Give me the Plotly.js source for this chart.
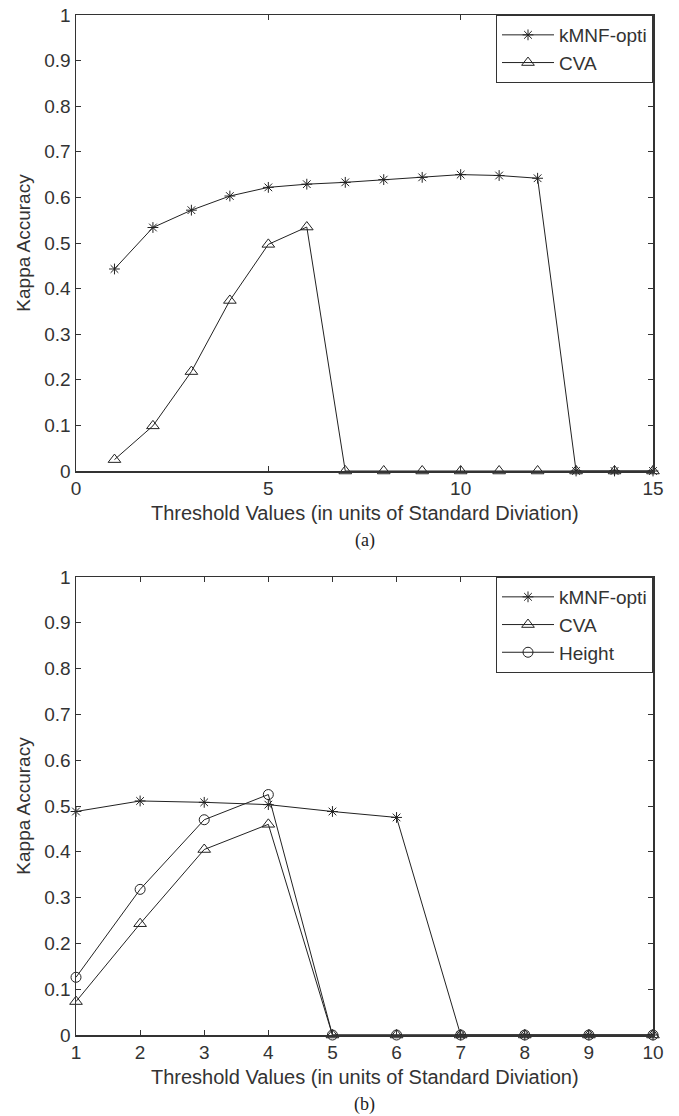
<!DOCTYPE html>
<html>
<head>
<meta charset="utf-8">
<script src="https://cdn.plot.ly/plotly-3.0.1.min.js"></script>
<style>html,body{margin:0;padding:0;background:#fff;}#chart{width:679px;height:1116px;}</style>
</head>
<body>
<div id="chart"></div>
<script>
// Panel (a)
const xA = [1,2,3,4,5,6,7,8,9,10,11,12,13,14,15];
const kmnfA = [0.443,0.534,0.572,0.603,0.622,0.629,0.633,0.639,0.644,0.650,0.648,0.642,0,0,0];
const cvaA  = [0.025,0.099,0.218,0.374,0.497,0.535,0,0,0,0,0,0,0,0,0];
// Panel (b)
const xB = [1,2,3,4,5,6,7,8,9,10];
const kmnfB   = [0.488,0.511,0.508,0.503,0.488,0.475,0,0,0,0];
const cvaB    = [0.073,0.243,0.405,0.460,0,0,0,0,0,0];
const heightB = [0.126,0.318,0.470,0.525,0,0,0,0,0,0];

const seriesNames = ['kMNF-opti','CVA','Height'];
const xTitle = 'Threshold Values (in units of Standard Diviation)';
const yTitle = 'Kappa Accuracy';
const panelLabels = ['(a)', '(b)'];

const FONT = '"Liberation Sans Narrow", "Arial Narrow", "Liberation Sans", Arial, sans-serif';
const SERIF = '"Liberation Serif", "Times New Roman", serif';
const ink = '#222';
const FS = 19;

function tr(x, y, name, sym, xa, ya, leg, size) {
  return {
    x: x, y: y, name: name, type: 'scatter', mode: 'lines+markers',
    xaxis: xa, yaxis: ya, legend: leg, cliponaxis: false,
    line: {color: ink, width: 1},
    marker: {symbol: sym, size: size, color: ink, line: {color: ink, width: 1}}
  };
}

const data = [
  tr(xA, kmnfA, seriesNames[0], 'asterisk-open', 'x', 'y', 'legend', 9),
  tr(xA, cvaA, seriesNames[1], 'triangle-up-open', 'x', 'y', 'legend', 11),
  tr(xB, kmnfB, seriesNames[0], 'asterisk-open', 'x2', 'y2', 'legend2', 9),
  tr(xB, cvaB, seriesNames[1], 'triangle-up-open', 'x2', 'y2', 'legend2', 11),
  tr(xB, heightB, seriesNames[2], 'circle-open', 'x2', 'y2', 'legend2', 10)
];

const H = 1116, W = 679;
const xdom = [76/W, 653/W];
const axBase = {
  showline: true, linecolor: '#333', linewidth: 1.5, mirror: 'ticks',
  ticks: 'inside', ticklen: 5, tickcolor: '#333', tickwidth: 1,
  showgrid: false, zeroline: false,
  tickfont: {family: FONT, size: FS, color: '#333'}
};
function xax(range, dtick, anchor) {
  return Object.assign({}, axBase, {
    domain: xdom, range: range, dtick: dtick, tick0: 0, anchor: anchor
  });
}
function yax(top, bottom, anchor) {
  return Object.assign({}, axBase, {
    domain: [1 - bottom/H, 1 - top/H], range: [0, 1], dtick: 0.1, anchor: anchor,
    title: {text: yTitle, font: {family: FONT, size: FS, color: '#333'}, standoff: 8}
  });
}
const legBase = {
  xanchor: 'right', yanchor: 'top', bgcolor: '#fff', bordercolor: '#333', borderwidth: 1,
  font: {family: FONT, size: FS, color: '#333'}, tracegroupgap: 0, itemwidth: 52
};
const cx = (xdom[0] + xdom[1]) / 2;
function ann(text, ypx, font) {
  return {text: text, xref: 'paper', yref: 'paper', x: cx, y: 1 - ypx/H,
          xanchor: 'center', yanchor: 'middle', showarrow: false, font: font};
}
const titleFont = {family: FONT, size: 20, color: '#333'};
const labFont = {family: SERIF, size: 18, color: '#222'};
const layout = {
  width: W, height: H, margin: {l: 0, r: 0, t: 0, b: 0},
  paper_bgcolor: '#fff', plot_bgcolor: '#fff', showlegend: true,
  xaxis: xax([0, 15], 5, 'y'),
  yaxis: yax(15, 471, 'x'),
  xaxis2: xax([1, 10], 1, 'y2'),
  yaxis2: yax(577, 1035, 'x2'),
  legend: Object.assign({}, legBase, {x: xdom[1], y: 1 - 15/H}),
  legend2: Object.assign({}, legBase, {x: xdom[1], y: 1 - 577/H}),
  annotations: [
    ann(xTitle, 513, titleFont),
    ann(panelLabels[0], 541, labFont),
    ann(xTitle, 1077, titleFont),
    ann(panelLabels[1], 1104, labFont)
  ]
};
Plotly.newPlot('chart', data, layout, {displayModeBar: false, staticPlot: true});
</script>
</body>
</html>
